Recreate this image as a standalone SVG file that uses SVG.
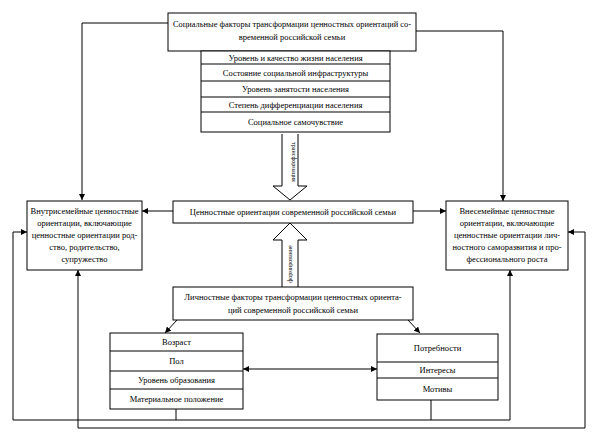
<svg xmlns="http://www.w3.org/2000/svg" width="597" height="439" viewBox="0 0 597 439">
<defs>
<style>
.box{fill:#fff;stroke:#000;stroke-width:1}
.ln{fill:none;stroke:#000;stroke-width:1}
.t{font-family:"Liberation Serif","Times New Roman",serif;font-size:8.5px;fill:#000;text-anchor:middle}
.s{font-family:"Liberation Serif","Times New Roman",serif;font-size:6px;fill:#000;text-anchor:middle}
</style>
<marker id="ar" viewBox="0 0 8 8" refX="8" refY="4" markerWidth="6" markerHeight="6" orient="auto-start-reverse" markerUnits="userSpaceOnUse">
<path d="M0,0 L8,4 L0,8 z" fill="#000"/>
</marker>
</defs>
<rect width="597" height="439" fill="#fff"/>

<g id="connectors">
<path class="ln" d="M168,23 H82 V200" marker-end="url(#ar)"/>
<path class="ln" d="M416,31 H503 V201" marker-end="url(#ar)"/>
<path class="ln" d="M173,211 H142" marker-end="url(#ar)"/>
<path class="ln" d="M413,211 H446" marker-end="url(#ar)"/>
<path class="ln" d="M282,134 V186 H273 L290,200 L307,186 H298 V134"/>
<path class="ln" d="M282,287 V240 H273 L290,223 L307,240 H298 V287"/>
<path class="ln" d="M177,320 L165,333" marker-end="url(#ar)"/>
<path class="ln" d="M408,320 L420,333" marker-end="url(#ar)"/>
<path class="ln" d="M243,369 H377" marker-start="url(#ar)" marker-end="url(#ar)"/>
<path class="ln" d="M27,232 H13 V420 H510 V270" marker-start="url(#ar)" marker-end="url(#ar)"/>
<path class="ln" d="M78,270 V428 H585 V232 H568" marker-start="url(#ar)" marker-end="url(#ar)"/>
<path class="ln" d="M176,409 V420"/>
<path class="ln" d="M431,400 V420"/>
<text class="s" transform="translate(292,162) rotate(90)">трансформация</text>
<text class="s" transform="translate(292,264) rotate(-90)">формирование</text>
</g>

<g id="social">
<rect class="box" x="168" y="13" width="248" height="38"/>
<text class="t" x="292" y="27" textLength="238" lengthAdjust="spacingAndGlyphs">Социальные факторы трансформации ценностных ориентаций со-</text>
<text class="t" x="292" y="40">временной российской семьи</text>
</g>

<g id="social-list">
<rect class="box" x="201" y="51" width="189" height="81"/>
<path class="ln" d="M201,64 H390 M201,81 H390 M201,97 H390 M201,112 H390"/>
<text class="t" x="295.5" y="60.5">Уровень и качество жизни населения</text>
<text class="t" x="295.5" y="75.5">Состояние социальной инфраструктуры</text>
<text class="t" x="295.5" y="92">Уровень занятости населения</text>
<text class="t" x="295.5" y="107.5">Степень дифференциации населения</text>
<text class="t" x="295.5" y="125">Социальное самочувствие</text>
</g>

<g id="values">
<rect class="box" x="173" y="201" width="240" height="22"/>
<text class="t" x="293" y="215">Ценностные ориентации современной российской семьи</text>
</g>

<g id="intra">
<rect class="box" x="27" y="201" width="115" height="69"/>
<text class="t" x="84.5" y="214">Внутрисемейные ценностные</text>
<text class="t" x="84.5" y="226">ориентации, включающие</text>
<text class="t" x="84.5" y="238">ценностные ориентации род-</text>
<text class="t" x="84.5" y="250">ство, родительство,</text>
<text class="t" x="84.5" y="262">супружество</text>
</g>

<g id="extra">
<rect class="box" x="446" y="201" width="122" height="69"/>
<text class="t" x="507" y="214">Внесемейные ценностные</text>
<text class="t" x="507" y="226">ориентации, включающие</text>
<text class="t" x="507" y="238">ценностные ориентации лич-</text>
<text class="t" x="507" y="250">ностного саморазвития и про-</text>
<text class="t" x="507" y="262">фессионального роста</text>
</g>

<g id="personal">
<rect class="box" x="173" y="287" width="240" height="33"/>
<text class="t" x="293" y="300">Личностные факторы трансформации ценностных ориента-</text>
<text class="t" x="293" y="313">ций современной российской семьи</text>
</g>

<g id="personal-left">
<rect class="box" x="110" y="333" width="133" height="76"/>
<path class="ln" d="M110,351 H243 M110,371 H243 M110,389 H243"/>
<text class="t" x="176.5" y="345">Возраст</text>
<text class="t" x="176.5" y="364">Пол</text>
<text class="t" x="176.5" y="383">Уровень образования</text>
<text class="t" x="176.5" y="402">Материальное положение</text>
</g>

<g id="personal-right">
<rect class="box" x="377" y="334" width="121" height="66"/>
<path class="ln" d="M377,362 H498 M377,378 H498"/>
<text class="t" x="437.5" y="351">Потребности</text>
<text class="t" x="437.5" y="373">Интересы</text>
<text class="t" x="437.5" y="392">Мотивы</text>
</g>
</svg>
